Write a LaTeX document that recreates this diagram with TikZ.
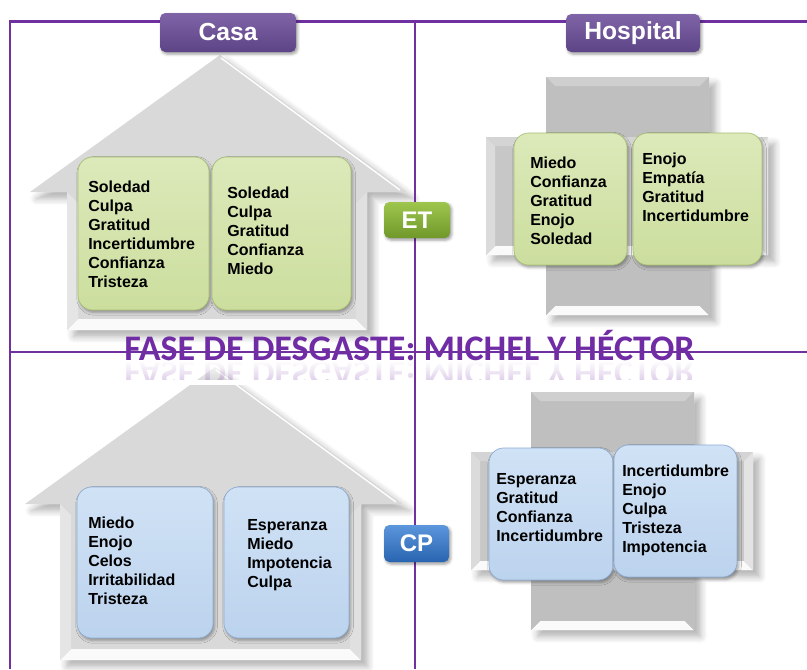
\documentclass[tikz,border=0pt]{standalone}
\usepackage{fontspec}
\setmainfont{Liberation Sans}
\newfontfamily\titlefont{Carlito}
\usepackage{tikz}
\usetikzlibrary{positioning}
\usetikzlibrary{shadows.blur}
\usetikzlibrary{fadings}

\definecolor{frame}{RGB}{112,48,160}
\definecolor{tagtop}{RGB}{128,100,168}
\definecolor{tagbot}{RGB}{92,68,134}
\definecolor{ettop}{RGB}{220,233,186}
\definecolor{etbot}{RGB}{204,222,158}
\definecolor{etline}{RGB}{168,192,112}
\definecolor{cptop}{RGB}{208,226,245}
\definecolor{cpbot}{RGB}{188,211,238}
\definecolor{cpline}{RGB}{140,172,212}
\definecolor{greentop}{RGB}{158,198,78}
\definecolor{greenbot}{RGB}{112,152,42}
\definecolor{bluetop}{RGB}{92,150,220}
\definecolor{bluebot}{RGB}{40,100,176}
\definecolor{titlecol}{RGB}{112,44,164}

% beveled slab: x1 y1 x2 y2 depth (in px)
\newcommand{\bevel}[5]{%
	\fill[bvmid] (#1,#2) rectangle (#3,#4);
	\fill[bvtop] (#1,#2) -- (#3,#2) -- (#3-#5,#2+#5) -- (#1+#5,#2+#5) -- cycle;
	\fill[bvbot] (#1,#4) -- (#3,#4) -- (#3-#5,#4-#5) -- (#1+#5,#4-#5) -- cycle;
	\fill[bvleft] (#1,#2) -- (#1+#5,#2+#5) -- (#1+#5,#4-#5) -- (#1,#4) -- cycle;
	\fill[bvright] (#3,#2) -- (#3-#5,#2+#5) -- (#3-#5,#4-#5) -- (#3,#4) -- cycle;
}

\begin{document}
\begin{tikzpicture}[x=0.75pt, y=-0.75pt,
	roomtag/.style={rounded corners=4pt, inner sep=0pt, outer sep=0pt, top color=tagtop, bottom color=tagbot, text=white, font=\bfseries\fontsize{18.5}{20}\selectfont, blur shadow={shadow xshift=1.2pt, shadow yshift=-1.5pt, shadow opacity=40, shadow blur steps=4}},
	phasetag/.style={roomtag, font=\bfseries\fontsize{18}{20}\selectfont},
	feelbox/.style={rounded corners=11pt, inner sep=0pt, outer sep=0pt, line width=0.5pt, blur shadow={shadow xshift=1.2pt, shadow yshift=-1.8pt, shadow opacity=35, shadow blur steps=4}},
	etbox/.style={feelbox, draw=etline, top color=ettop, bottom color=etbot},
	cpbox/.style={feelbox, draw=cpline, top color=cptop, bottom color=cpbot},
	words/.style={align=left, inner sep=0pt, font=\bfseries\fontsize{12}{14.25}\selectfont},
	title/.style={anchor=base, inner sep=0pt, text=titlecol, font=\titlefont\bfseries\fontsize{27}{30}\selectfont},
	grid/.style={draw=frame, line width=1.8pt},
	house/.style={bvmid/.style={fill=gray!30}, bvtop/.style={fill=gray!30}, bvleft/.style={fill=gray!20}, bvright/.style={fill=gray!24}, bvbot/.style={fill=gray!4}},
	crossv/.style={bvmid/.style={fill=gray!50}, bvtop/.style={fill=gray!38}, bvleft/.style={fill=gray!50}, bvright/.style={fill=gray!50}, bvbot/.style={fill=gray!4}},
	crossh/.style={bvmid/.style={fill=gray!44}, bvtop/.style={fill=gray!34}, bvleft/.style={fill=gray!28}, bvright/.style={fill=gray!22}, bvbot/.style={fill=gray!4}},
	castshadow/.style={fill=white, blur shadow={shadow xshift=5pt, shadow yshift=-5pt, shadow opacity=30, shadow blur radius=5pt, shadow blur steps=6}}]
	\useasboundingbox (0,0) rectangle (807,669);

	% houses (casa)
	\fill[castshadow] (220,55) -- (407,192) -- (367,192) -- (367,330) -- (67,330) -- (67,192) -- (30,192) -- cycle;
	\begin{scope}[house]
		\bevel{67}{192}{367}{330}{11}
	\end{scope}
	\fill[gray!30] (220,55) -- (407,192) -- (30,192) -- cycle;
	\draw[white, line width=1pt] (221,58) -- (400,190);

	\fill[castshadow] (215,367) -- (403,504) -- (361,504) -- (361,660) -- (60,660) -- (60,504) -- (25,504) -- cycle;
	\begin{scope}[house]
		\bevel{60}{504}{361}{660}{11}
	\end{scope}
	\fill[gray!30] (215,367) -- (403,504) -- (25,504) -- cycle;
	\draw[white, line width=1pt] (216,370) -- (396,502);

	% crosses (hospital)
	\fill[castshadow] (546,77) -- (709,77) -- (709,137) -- (768,137) -- (768,255) -- (709,255) -- (709,315) -- (546,315) -- (546,255) -- (486,255) -- (486,137) -- (546,137) -- cycle;
	\begin{scope}[crossv]
		\bevel{546}{77}{709}{315}{9}
	\end{scope}
	\begin{scope}[crossh]
		\bevel{486}{137}{768}{255}{9}
	\end{scope}

	\fill[castshadow] (531,392) -- (694,392) -- (694,452) -- (753,452) -- (753,570) -- (694,570) -- (694,630) -- (531,630) -- (531,570) -- (471,570) -- (471,452) -- (531,452) -- cycle;
	\begin{scope}[crossv]
		\bevel{531}{392}{694}{630}{9}
	\end{scope}
	\begin{scope}[crossh]
		\bevel{471}{452}{753}{570}{9}
	\end{scope}

	% title with reflection
	\node[title] (fase) at (409.5,360) {FASE DE DESGASTE: MICHEL Y HÉCTOR};
	\begin{scope}
		\clip (100,360) rectangle (720,384);
		\node[title, opacity=.22, yscale=-1, transform shape] (faserefl) at (409.5,361) {FASE DE DESGASTE: MICHEL Y HÉCTOR};
	\end{scope}
	\fill[white, path fading=south] (100,361) rectangle (720,380);
	\fill[white] (100,380) rectangle (720,385);

	% frame
	\draw[grid] (10,669) -- (10,21.5) -- (807,21.5);
	\draw[grid] (415,21.5) -- (415,669);
	\draw[grid] (10,352) -- (807,352);

	% ET boxes
	\node[etbox, minimum width=98.25pt, minimum height=114.75pt] (casaA) at (143.5,233.5) {};
	\node[etbox, minimum width=104.25pt, minimum height=114.75pt] (casaB) at (281.5,233.5) {};
	\node[etbox, minimum width=84.75pt, minimum height=99pt] (hospA) at (570.5,199) {};
	\node[etbox, minimum width=96.75pt, minimum height=99pt] (hospB) at (697.5,199) {};

	\node[words, right=7.5pt of casaA.west, yshift=-0.4pt] (casaAt) {Soledad\\Culpa\\Gratitud\\Incertidumbre\\Confianza\\Tristeza};
	\node[words, right=11.25pt of casaB.west, yshift=1.9pt] (casaBt) {Soledad\\Culpa\\Gratitud\\Confianza\\Miedo};
	\node[words, right=12pt of hospA.west, yshift=-1.5pt] (hospAt) {Miedo\\Confianza\\Gratitud\\Enojo\\Soledad};
	\node[words, right=6.75pt of hospB.west, yshift=8.6pt] (hospBt) {Enojo\\Empatía\\Gratitud\\Incertidumbre};

	% CP boxes
	\node[cpbox, minimum width=102pt, minimum height=113.25pt] (cpcasaA) at (145,562.5) {};
	\node[cpbox, minimum width=93.75pt, minimum height=113.25pt] (cpcasaB) at (286.5,562.5) {};
	\node[cpbox, minimum width=93pt, minimum height=99pt] (cphospA) at (551,514) {};
	\node[cpbox, minimum width=92.25pt, minimum height=99pt] (cphospB) at (675.5,511) {};

	\node[words, right=8.25pt of cpcasaA.west, yshift=1.5pt] (cpcasaAt) {Miedo\\Enojo\\Celos\\Irritabilidad\\Tristeza};
	\node[words, right=17.25pt of cpcasaB.west, yshift=5.25pt] (cpcasaBt) {Esperanza\\Miedo\\Impotencia\\Culpa};
	\node[words, right=5.25pt of cphospA.west, yshift=4.9pt] (cphospAt) {Esperanza\\Gratitud\\Confianza\\Incertidumbre};
	\node[words, right=6pt of cphospB.west, yshift=0.75pt] (cphospBt) {Incertidumbre\\Enojo\\Culpa\\Tristeza\\Impotencia};

	% tags
	\node[roomtag, minimum width=102pt, minimum height=29.25pt] (casa) at (228,32.5) {Casa};
	\node[roomtag, minimum width=100.5pt, minimum height=28.5pt] (hospital) at (633,33) {Hospital};
	\node[phasetag, top color=greentop, bottom color=greenbot, minimum width=49.5pt, minimum height=27pt] (et) at (417,220) {ET};
	\node[phasetag, top color=bluetop, bottom color=bluebot, minimum width=48.75pt, minimum height=27.75pt] (cp) at (416.5,543.5) {CP};
\end{tikzpicture}
\end{document}
